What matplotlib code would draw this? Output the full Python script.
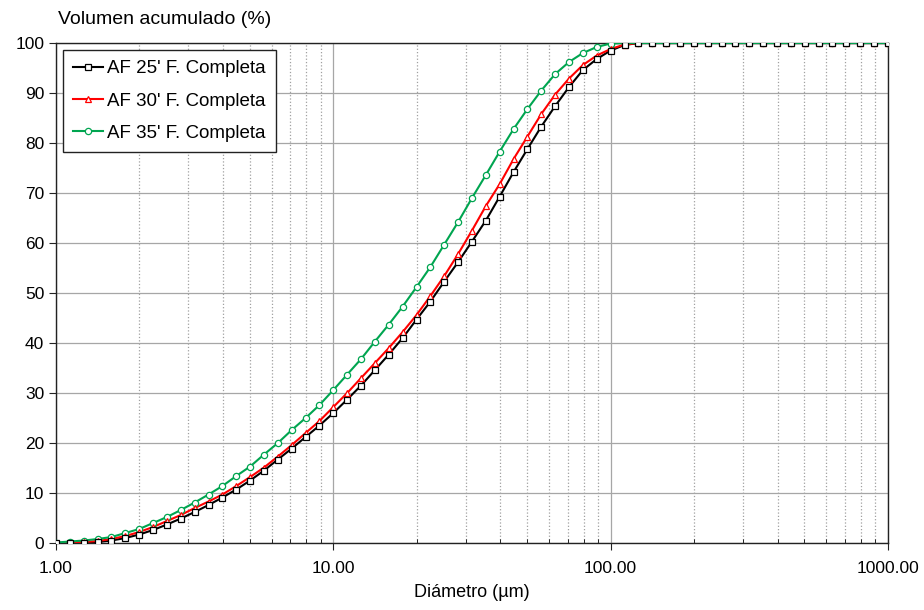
import numpy as np
import matplotlib.pyplot as plt
from matplotlib.ticker import LogLocator, FixedLocator, FuncFormatter
from matplotlib.lines import Line2D

plt.rcParams['font.family'] = ['Liberation Sans', 'DejaVu Sans']

# size classes, 20 per decade from 1 to 1000 um
diametro = 10 ** (np.arange(61) / 20)

af25 = [0, 0, 0.1, 0.2, 0.5, 1.0, 1.7, 2.6, 3.7, 4.9,
        6.2, 7.6, 9.1, 10.7, 12.5, 14.5, 16.7, 18.9, 21.2, 23.5,
        26.0, 28.7, 31.5, 34.6, 37.7, 41.0, 44.7, 48.3, 52.3, 56.2,
        60.3, 64.5, 69.3, 74.2, 78.8, 83.3, 87.4, 91.2, 94.6, 96.8,
        98.5, 99.6] + [100] * 19
af30 = [0, 0.05, 0.2, 0.4, 0.8, 1.4, 2.2, 3.2, 4.4, 5.6,
        7.0, 8.3, 9.7, 11.4, 13.2, 15.1, 17.3, 19.6, 22.0, 24.4,
        27.2, 30.0, 33.0, 36.0, 39.0, 42.2, 45.6, 49.4, 53.4, 57.8,
        62.5, 67.4, 71.8, 76.8, 81.3, 85.8, 89.7, 92.9, 95.6, 97.5,
        98.8, 99.7] + [100] * 19
af35 = [0.1, 0.3, 0.5, 0.8, 1.2, 2.0, 2.8, 4.0, 5.2, 6.6,
        8.1, 9.7, 11.4, 13.4, 15.3, 17.7, 20.0, 22.6, 25.0, 27.6,
        30.6, 33.7, 36.8, 40.3, 43.7, 47.3, 51.2, 55.2, 59.7, 64.2,
        69.0, 73.6, 78.3, 82.8, 86.8, 90.5, 93.8, 96.2, 98.0, 99.2,
        99.9] + [100] * 20

etiquetas = ["AF 25' F. Completa", "AF 30' F. Completa", "AF 35' F. Completa"]
colores = ['#000000', '#ff0000', '#00a550']
marcadores = ['s', '^', 'o']

fig = plt.figure(figsize=(9.24, 6.10), dpi=100)
ax = fig.add_axes([0.0606, 0.1098, 0.9004, 0.8197])

series = [af25, af30, af35]
# lines first, then the markers with the 25' series on top
for y, c in zip(series, colores):
    ax.plot(diametro, y, color=c, lw=1.5, zorder=3)
for y, c, m in list(zip(series, colores, marcadores))[::-1]:
    ax.plot(diametro, y, ls='none', marker=m, markersize=4.5,
            markerfacecolor='white', markeredgecolor=c, markeredgewidth=0.9,
            zorder=4)

ax.set_xscale('log')
ax.set_xlim(1, 1000)
ax.set_ylim(0, 100)
ax.set_yticks(range(0, 101, 10))
ax.xaxis.set_major_locator(FixedLocator([1, 10, 100, 1000]))
ax.xaxis.set_major_formatter(FuncFormatter(lambda v, p: f'{v:.2f}'))
ax.xaxis.set_minor_locator(LogLocator(base=10, subs=np.arange(2, 10)))
ax.xaxis.set_minor_formatter(FuncFormatter(lambda v, p: ''))

ax.grid(True, which='major', color='#a6a6a6', lw=0.9, ls='-')
ax.grid(True, which='minor', axis='x', color='#a0a0a0', lw=0.9, ls=':')
ax.set_axisbelow(True)

for s in ax.spines.values():
    s.set_color('#222222')
    s.set_linewidth(1.0)

ax.tick_params(axis='both', which='major', labelsize=12.5, length=5,
               direction='out', color='#222222')
ax.tick_params(axis='x', which='minor', length=3, direction='in')
ax.tick_params(axis='x', pad=8)

fig.text(58 / 924, 1 - 20 / 610, 'Volumen acumulado (%)', fontsize=14,
         ha='left', va='center')
ax.set_xlabel('Diámetro (µm)', fontsize=13, labelpad=6)

handles = [Line2D([], [], color=c, lw=1.5, marker=m, markersize=4.5,
                  markerfacecolor='white', markeredgecolor=c, markeredgewidth=0.9)
           for c, m in zip(colores, marcadores)]
leg = ax.legend(handles, etiquetas, loc='upper left',
                bbox_to_anchor=(0.0084, 0.986), borderaxespad=0, fontsize=13.5,
                handlelength=1.6, handletextpad=0.2, borderpad=0.55,
                labelspacing=0.8, fancybox=False, framealpha=1)
leg.get_frame().set_edgecolor('#222222')
leg.get_frame().set_linewidth(1.0)

fig.savefig('out.png', dpi=100)
